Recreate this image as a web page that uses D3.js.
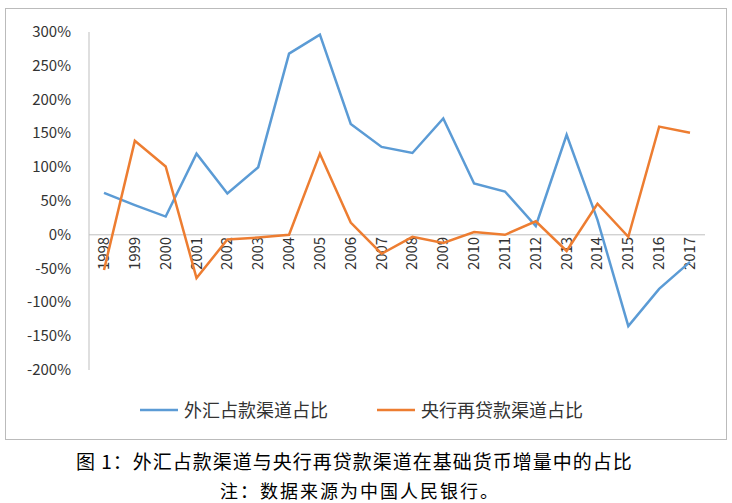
<!DOCTYPE html><html><head><meta charset="utf-8"><script src="https://cdn.jsdelivr.net/npm/d3@7"></script>
<style>body{margin:0;background:#fff}</style></head><body><svg id="c" width="732" height="503"></svg>
<script>
const years=["1998","1999","2000","2001","2002","2003","2004","2005","2006","2007","2008","2009","2010","2011","2012","2013","2014","2015","2016","2017"];
const fx=[62,44,27,120,61,100,268,296,164,130,121,172,76,64,13,148,22,-135,-80,-40];
const loan=[-52,139,101,-64,-7,-4,0,120,18,-28,-3,-12,4,0,20,-24,46,-3,160,151];
const yTicks=[300,250,200,150,100,50,0,-50,-100,-150,-200];
const seriesNames=["外汇占款渠道占比","央行再贷款渠道占比"];
const colors=["#5B9BD5","#ED7D31"];
const svg=d3.select("#c");
const font="'Noto Sans CJK SC', 'Liberation Sans', sans-serif";
svg.append("rect").attr("x",5.5).attr("y",8.5).attr("width",721).attr("height",431).attr("fill","none").attr("stroke","#bbb");
const x=d3.scalePoint().domain(years).range([104,690]);
const y=d3.scaleLinear().domain([-200,300]).range([370,32]);
svg.append("line").attr("x1",89).attr("x2",89).attr("y1",y(300)).attr("y2",y(-200)).attr("stroke","#bfbfbf");
svg.append("line").attr("x1",89).attr("x2",705).attr("y1",y(0)).attr("y2",y(0)).attr("stroke","#bfbfbf");
yTicks.forEach(t=>svg.append("text").attr("x",71).attr("y",y(t)+5).attr("text-anchor","end").attr("font-family",font).attr("font-size",15).attr("fill","#333").text(t+"%"));
years.forEach(yr=>svg.append("text").attr("transform",`translate(${x(yr)+5},${y(0)+2}) rotate(-90)`).attr("text-anchor","end").attr("font-family",font).attr("font-size",15).attr("fill","#333").text(yr));
const line=d3.line().x((d,i)=>x(years[i])).y(d=>y(d));
[fx,loan].forEach((s,i)=>svg.append("path").attr("d",line(s)).attr("fill","none").attr("stroke",colors[i]).attr("stroke-width",2.5));
[[140,seriesNames[0]],[377,seriesNames[1]]].forEach(([lx,t],i)=>{
 svg.append("line").attr("x1",lx).attr("x2",lx+38).attr("y1",410).attr("y2",410).attr("stroke",colors[i]).attr("stroke-width",2.5);
 svg.append("text").attr("x",lx+44).attr("y",417).attr("font-family",font).attr("font-size",18).attr("fill","#333").text(t);
});
svg.append("text").attr("x",76).attr("y",469).attr("font-family",font).attr("font-size",19).attr("letter-spacing",1).attr("fill","#000").text("图 1：外汇占款渠道与央行再贷款渠道在基础货币增量中的占比");
svg.append("text").attr("x",220).attr("y",498).attr("font-family",font).attr("font-size",18).attr("letter-spacing",2).attr("fill","#000").text("注：数据来源为中国人民银行。");
</script></body></html>
